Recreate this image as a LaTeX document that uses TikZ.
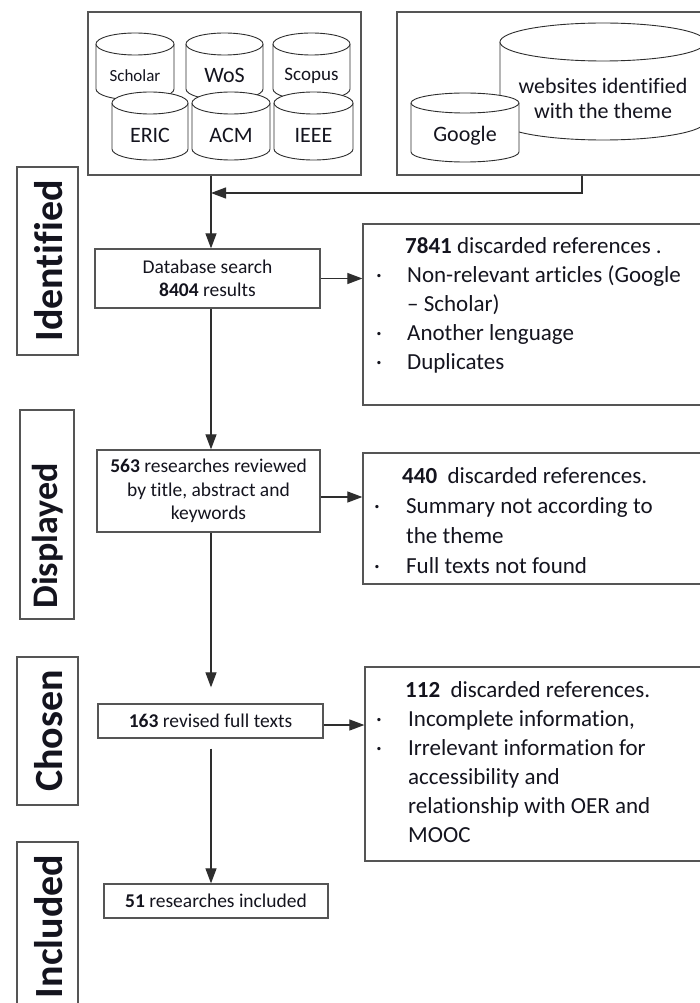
\documentclass[tikz,border=0pt]{standalone}
\usepackage{fontspec}
\setmainfont{Carlito}[Ligatures=NoCommon]
\usetikzlibrary{arrows.meta}

\definecolor{ink}{HTML}{14141E}
\definecolor{frame}{HTML}{555555}
\definecolor{wire}{HTML}{2E2E2E}

% database cylinder: name, centre x, half width, top, bottom, ellipse ry, font, text
\newcommand\dbcyl[8]{%
  \filldraw[cylline] ({#2-#3},{#4+#6}) -- ({#2-#3},{#5-#6})
    arc[start angle=180,end angle=360,x radius=#3pt,y radius=#6pt]
    -- ({#2+#3},{#4+#6})
    arc[start angle=0,end angle=180,x radius=#3pt,y radius=#6pt] -- cycle;
  \draw[cylline] ({#2+#3},{#4+#6}) arc[start angle=0,end angle=-180,x radius=#3pt,y radius=#6pt];
  \node[cyltext,font=#7] (#1) at (#2,{(#4+2*#6+#5)/2-2}) {#8};
}

\begin{document}
\begin{tikzpicture}[x=1pt,y=-1pt,
  every node/.style={text=ink},
  frm/.style={draw=frame,line width=1.3pt,fill=none,inner sep=0pt},
  cylline/.style={draw=wire,fill=white,line width=0.9pt},
  cyltext/.style={inner sep=0pt,align=center},
  conn/.style={draw=wire,line width=1.2pt,-{Triangle[length=15pt,width=11pt]}},
  phase/.style={rotate=90,font=\fontsize{40}{44}\selectfont\bfseries,inner sep=0pt},
  midtext/.style={align=center,inner sep=0pt,font=\fontsize{19.5}{23.5}\selectfont},
  listtext/.style={align=left,inner sep=0pt,anchor=north west}
]
\path[use as bounding box,clip] (0,0) rectangle (700,1003);
\fill[white] (0,0) rectangle (700,1003);

% ---- sources ----
\node[frm,minimum width=273pt,minimum height=163pt] (lbox) at (224.5,93.5) {};
\node[frm,minimum width=313pt,minimum height=163pt] (rbox) at (553.5,93.5) {};

\dbcyl{scholar}{135}{39}{33}{100}{11}{\fontsize{17}{20}\selectfont}{Scholar}
\dbcyl{wos}{224.5}{38.5}{33}{100}{11}{\fontsize{22}{25}\selectfont}{WoS}
\dbcyl{scopus}{311.5}{38.5}{33}{100}{11}{\fontsize{19}{22}\selectfont}{Scopus}
\dbcyl{eric}{150}{38}{92}{160}{11}{\fontsize{22}{25}\selectfont}{ERIC}
\dbcyl{acm}{231}{39}{92}{160}{11}{\fontsize{22}{25}\selectfont}{ACM}
\dbcyl{ieee}{313.5}{39.5}{92}{160}{11}{\fontsize{22}{25}\selectfont}{IEEE}

\dbcyl{webs}{603}{103}{23}{140}{19}{\fontsize{22}{25}\selectfont}{websites identified\\with the theme}
\dbcyl{google}{465}{54}{93}{162}{10}{\fontsize{22}{25}\selectfont}{Google}

% ---- phase labels ----
\node[frm,minimum width=61pt,minimum height=188pt] (pIdent) at (47.5,261) {};
\node[phase] (tIdent) at (49,261) {Identified};
\node[frm,minimum width=54pt,minimum height=209pt] (pDisp) at (47,514.5) {};
\node[phase,font=\fontsize{36}{40}\selectfont\bfseries] (tDisp) at (48,536) {Displayed};
\node[frm,minimum width=61pt,minimum height=148pt] (pChos) at (47.5,731) {};
\node[phase] (tChos) at (49,731) {Chosen};
\node[frm,minimum width=61pt,minimum height=173pt] (pIncl) at (47.5,928.5) {};
\node[phase] (tIncl) at (49,926.5) {Included};

% ---- main flow ----
\node[frm,minimum width=225pt,minimum height=59pt,midtext] (db) at (207.5,278.5)
  {Database search\\\textbf{8404} results};
\node[frm,minimum width=223pt,minimum height=82pt,midtext] (rev) at (208.5,491)
  {\textbf{563} researches reviewed\\by title, abstract and\\keywords};
\node[frm,minimum width=225pt,minimum height=34pt,midtext] (full) at (210.5,721)
  {\textbf{163} revised full texts};
\node[frm,minimum width=224pt,minimum height=34pt,midtext] (incl) at (216,901)
  {\textbf{51} researches included};

% ---- exclusion boxes ----
\node[frm,minimum width=347pt,minimum height=181pt] (ex1) at (536.5,314.5) {};
\node[listtext,font=\fontsize{23}{29}\selectfont] (ex1t) at (376,237)
  {\makebox[29pt][l]{}\textbf{7841} discarded references .\\
   \makebox[31pt][l]{·}Non-relevant articles (Google\\
   \makebox[31pt][l]{}– Scholar)\\
   \makebox[31pt][l]{·}Another lenguage\\
   \makebox[31pt][l]{·}Duplicates};

\node[frm,minimum width=347pt,minimum height=131pt] (ex2) at (536.5,518.5) {};
\node[listtext,font=\fontsize{23}{30}\selectfont] (ex2t) at (374,467)
  {\makebox[28pt][l]{}\textbf{440}\ \ discarded references.\\
   \makebox[32pt][l]{·}Summary not according to\\
   \makebox[32pt][l]{}the theme\\
   \makebox[32pt][l]{·}Full texts not found};

\node[frm,minimum width=345pt,minimum height=194pt] (ex3) at (537.5,764) {};
\node[listtext,font=\fontsize{23}{29}\selectfont] (ex3t) at (376,681.5)
  {\makebox[29pt][l]{}\textbf{112}\ \ discarded references.\\
   \makebox[32pt][l]{·}Incomplete information,\\
   \makebox[32pt][l]{·}Irrelevant information for\\
   \makebox[32pt][l]{}accessibility and\\
   \makebox[32pt][l]{}relationship with OER and\\
   \makebox[32pt][l]{}MOOC};

% ---- connectors ----
\coordinate (sp) at (211,0);
\coordinate (rdrop) at (582,0);
\coordinate (join) at (211,193);

\draw[conn] (lbox.south -| sp) -- (db.north -| sp);
\draw[conn] (rbox.south -| rdrop) |- (join);
\draw[conn] (db.south -| sp) -- (rev.north -| sp);
\draw[conn,shorten >=16pt] (rev.south -| sp) -- (full.north -| sp);
\draw[conn,shorten <=10pt] (full.south -| sp) -- (incl.north -| sp);

\draw[conn] (db.east) -- (db.east -| ex1.west);
\draw[conn] ([yshift=-6pt]rev.east) -- ([yshift=-6pt]rev.east -| ex2.west);
\draw[conn] ([yshift=-4pt]full.east) -- ([yshift=-4pt]full.east -| ex3.west);
\end{tikzpicture}
\end{document}
